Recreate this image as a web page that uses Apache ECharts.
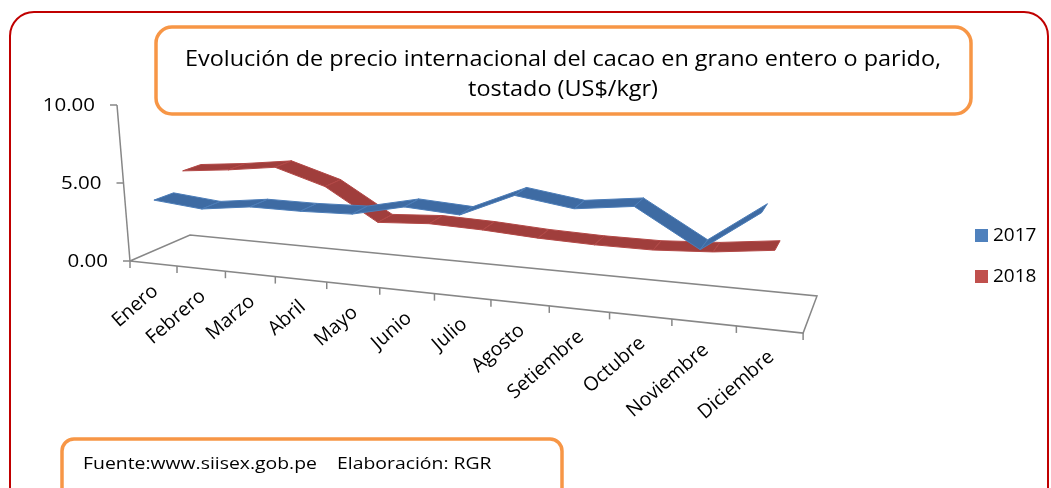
<!DOCTYPE html>
<html><head><meta charset="utf-8">
<script src="https://cdn.jsdelivr.net/npm/echarts@6/dist/echarts.min.js"></script>
<style>html,body{margin:0;padding:0;background:#fff}#c{width:1051px;height:488px}</style>
</head><body><div id="c"></div>
<script>
// ---- data ----
const months = ['Enero','Febrero','Marzo','Abril','Mayo','Junio','Julio','Agosto','Setiembre','Octubre','Noviembre','Diciembre'];
const seriesNames = ['2017', '2018'];
const values2017 = [3.9, 3.6, 4.0, 4.0, 4.1, 4.8, 4.6, 6.0, 5.5, 5.9, 3.8, 6.1];
const values2018 = [5.1, 5.4, 5.8, 4.8, 2.8, 3.0, 2.9, 2.7, 2.6, 2.6, 2.8, 3.2];
const valueTicks = [0, 5, 10];
const valueTickLabels = ['0.00', '5.00', '10.00'];
const titleText = 'Evolución de precio internacional del cacao en grano entero o parido,\ntostado (US$/kgr)';
const footerText = 'Fuente:www.siisex.gob.pe    Elaboración: RGR';

// ---- view ----
const FONT = '"Open Sans", "DejaVu Sans", sans-serif';
const STRETCH = 1.14;
const GRID = {left: 130, top: 105, width: 673, height: 156};
// perspective view transform of the (category, value) plane at depth z
function proj(px, py, z) {
  const ox = GRID.left, oy = GRID.top + GRID.height;
  const dx = px - ox, dy = oy - py;
  const w = 1 - 0.0002587 * dx + 0.0774 * z;
  return [(ox + 0.7924 * dx - 0.0833 * dy + 74.7 * z) / w,
          (oy + 0.02095 * dx - dy - 7.8 * z) / w];
}
function segments(arr) {
  return arr.slice(0, -1).map((v, i) => [i, v, i + 1, arr[i + 1]]);
}
function ribbon(z, fill, stroke) {
  return function (params, api) {
    const a = api.coord([api.value(0), api.value(1)]);
    const b = api.coord([api.value(2), api.value(3)]);
    const d = 0.16;
    const pts = [proj(a[0], a[1], z - d), proj(b[0], b[1], z - d), proj(b[0], b[1], z + d), proj(a[0], a[1], z + d)];
    return {type: 'polygon', shape: {points: pts}, style: {fill: fill, stroke: stroke, lineWidth: 1}};
  };
}
function frame(params, api) {
  const n = months.length;
  const bw = api.size([1, 0])[0];
  const x0 = api.coord([0, 0])[0] - bw / 2;
  const yOf = v => api.coord([0, v])[1];
  const P = (px, v, z) => proj(px, yOf(v), z);
  const stroke = '#878787';
  const ch = [];
  const FL = P(x0, 0, 0), FR = P(x0 + n * bw, 0, 0), BL = P(x0, 0, 1), BR = P(x0 + n * bw, 0, 1);
  ch.push({type: 'polyline', shape: {points: [FL, BL, BR, FR, FL]}, style: {stroke, lineWidth: 1.5, fill: null}});
  for (let k = 0; k <= n; k++) {
    const p = P(x0 + k * bw, 0, 0);
    ch.push({type: 'line', shape: {x1: p[0], y1: p[1], x2: p[0], y2: p[1] + 7}, style: {stroke, lineWidth: 1.5}});
  }
  const top = P(x0, valueTicks[valueTicks.length - 1], 0);
  ch.push({type: 'line', shape: {x1: FL[0], y1: FL[1], x2: top[0], y2: top[1]}, style: {stroke, lineWidth: 1.5}});
  valueTicks.forEach((t, j) => {
    const p = P(x0, t, 0);
    ch.push({type: 'line', shape: {x1: p[0] - 7, y1: p[1], x2: p[0], y2: p[1]}, style: {stroke, lineWidth: 1.5}});
    ch.push({type: 'text', x: p[0] - 22, y: p[1] + 1, scaleX: STRETCH,
      style: {text: valueTickLabels[j], font: '18px ' + FONT, fill: '#000', align: 'right', verticalAlign: 'middle', textAlign: 'right', textVerticalAlign: 'middle'}});
  });
  months.forEach((m, i) => {
    const c = api.coord([i, 0]);
    const p = proj(c[0], c[1], 0);
    ch.push({type: 'text', x: p[0] + 2, y: p[1] + 25, rotation: 41 * Math.PI / 180,
      style: {text: m, font: '19.5px ' + FONT, fill: '#000', align: 'right', verticalAlign: 'middle', textAlign: 'right', textVerticalAlign: 'middle'}});
  });
  return {type: 'group', children: ch};
}

const chart = echarts.init(document.getElementById('c'), null, {renderer: 'canvas'});
chart.setOption({
  backgroundColor: '#fff',
  animation: false,
  legend: {orient: 'vertical', left: 970, top: 221, itemWidth: 13, itemHeight: 13, itemGap: 22, icon: 'rect',
    data: seriesNames, selectedMode: false,
    textStyle: {fontSize: 19, fontFamily: FONT, color: '#000'}},
  grid: GRID,
  xAxis: {type: 'category', data: months, boundaryGap: true, show: false},
  yAxis: {type: 'value', min: 0, max: 10, interval: 5, show: false},
  graphic: [
    {type: 'rect', shape: {x: 10, y: 12, width: 1038, height: 520, r: 24}, style: {fill: null, stroke: '#C00000', lineWidth: 2}, z: 0},
    {type: 'rect', shape: {x: 156, y: 27, width: 815, height: 87, r: 16}, style: {fill: '#fff', stroke: '#F79646', lineWidth: 3.5}, z: -1},
    {type: 'text', x: 563, y: 45, scaleX: 1.065,
      style: {text: titleText, font: '22px ' + FONT, fill: '#000', lineHeight: 30, align: 'center', verticalAlign: 'top', textAlign: 'center', textVerticalAlign: 'top'}},
    {type: 'rect', shape: {x: 62, y: 439, width: 500, height: 80, r: 12}, style: {fill: '#fff', stroke: '#F79646', lineWidth: 3.5}},
    {type: 'text', x: 83, y: 464, scaleX: STRETCH,
      style: {text: footerText, font: '17px ' + FONT, fill: '#000', verticalAlign: 'middle', textVerticalAlign: 'middle'}}
  ],
  series: [
    {type: 'custom', name: 'frame', silent: true, z: 1, renderItem: frame, data: [[0, 0, 0, 0]], encode: {x: 0, y: 1}, clip: false},
    {type: 'custom', name: seriesNames[1], z: 2, itemStyle: {color: '#C0504D'}, renderItem: ribbon(0.75, '#A03E3C', '#B34846'),
      data: segments(values2018), encode: {x: [0, 2], y: [1, 3]}, clip: false},
    {type: 'custom', name: seriesNames[0], z: 3, itemStyle: {color: '#4F81BD'}, renderItem: ribbon(0.25, '#3E6BA3', '#4C7DB8'),
      data: segments(values2017), encode: {x: [0, 2], y: [1, 3]}, clip: false}
  ]
});
</script></body></html>
